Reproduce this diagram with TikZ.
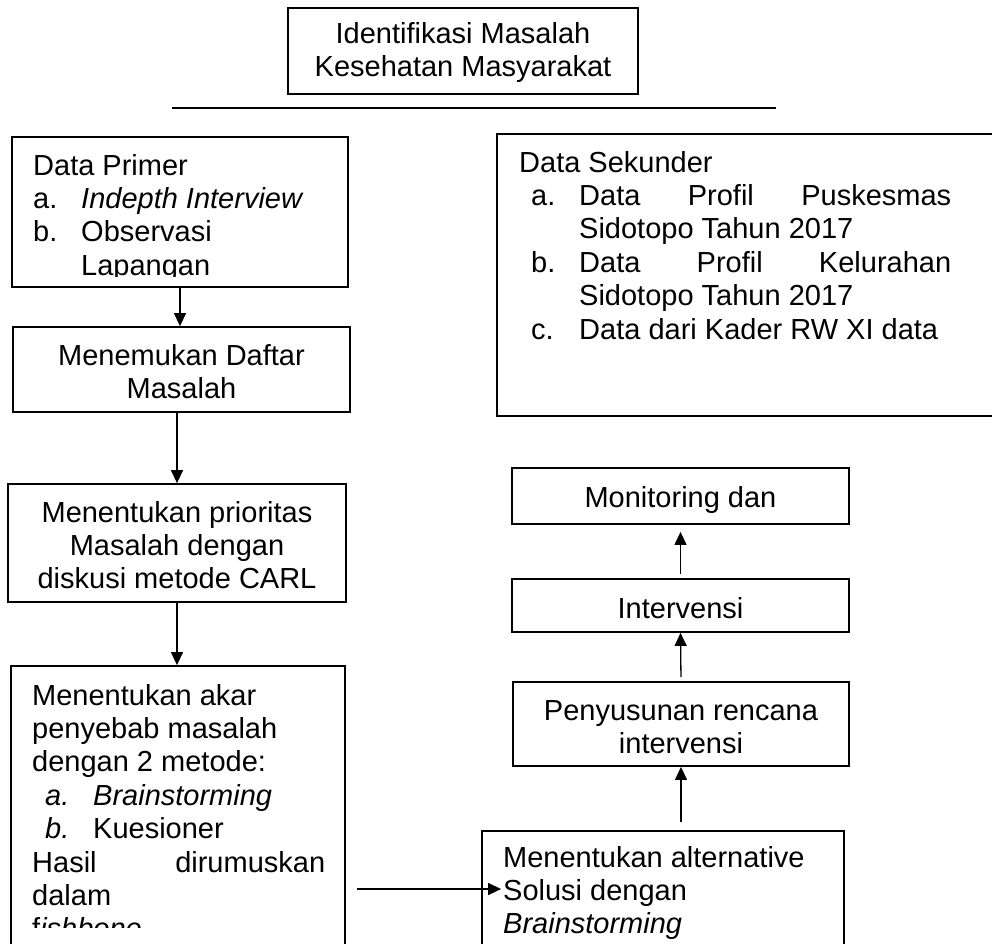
\documentclass[tikz,border=0pt]{standalone}
\usepackage{fontspec}
\setmainfont{Liberation Sans}
\usetikzlibrary{arrows.meta}
\newcommand\fsz{\fontsize{29}{33.4}\selectfont}
\tikzset{
  box/.style={draw, line width=1.8pt, rectangle, inner sep=0pt},
  arr/.style={line width=1.3pt, -{Triangle[length=13pt,width=12pt]}},
  txt/.style={inner sep=0pt, anchor=base},
  txtl/.style={inner sep=0pt, anchor=base west},
}
\begin{document}
\begin{tikzpicture}[x=1pt, y=-1pt]
\useasboundingbox (0,0) rectangle (992,943);

% boxes
\node[box, minimum width=350pt, minimum height=86pt] (top) at (463,51) {};
\node[box, minimum width=336pt, minimum height=150pt] (primer) at (180,212) {};
\node[box, minimum width=337pt, minimum height=85pt] (temu) at (181.5,369.5) {};
\node[box, minimum width=338pt, minimum height=118pt] (prior) at (177,543) {};
\node[box, minimum width=334pt, minimum height=314pt] (akar) at (178,823) {};
\node[box, minimum width=513pt, minimum height=282pt] (sek) at (753.5,275) {};
\node[box, minimum width=337pt, minimum height=56pt] (mon) at (680.5,496) {};
\node[box, minimum width=337pt, minimum height=53pt] (interv) at (680.5,605.5) {};
\node[box, minimum width=336pt, minimum height=84pt] (pen) at (681,724) {};
\node[box, minimum width=362pt, minimum height=159pt] (alt) at (663,910.5) {};

% horizontal rule under the title
\coordinate (ruleA) at (172,108);
\coordinate (ruleB) at (776,108);
\draw[line width=1.8pt] (ruleA) -- (ruleB);

% texts
\node[txt] (ttop) at (463,43) {\parbox[t]{340pt}{\fsz\centering Identifikasi Masalah\\Kesehatan Masyarakat}};

\begin{scope}
\clip (12,137) rectangle (348,276);
\node[txtl] (tprimer) at (33,175) {\parbox[t]{310pt}{\fsz Data Primer\\
\makebox[48pt][l]{a.}\textit{Indepth Interview}\\
\makebox[48pt][l]{b.}Observasi\\
\hspace*{48pt}Lapangan}};
\end{scope}

\node[txt] (ttemu) at (181.5,365) {\parbox[t]{330pt}{\fsz\centering Menemukan Daftar\\Masalah}};
\node[txt] (tprior) at (177,522) {\parbox[t]{336pt}{\fsz\centering Menentukan prioritas\\Masalah dengan\\diskusi metode CARL}};

\begin{scope}
\clip (11,666) rectangle (345,927);
\node[txtl] (takar) at (32,705) {\parbox[t]{310pt}{\fsz Menentukan akar\\
penyebab masalah\\
dengan 2 metode:\\
\hspace*{13pt}\makebox[48pt][l]{\textit{a.}}\textit{Brainstorming}\\
\hspace*{13pt}\makebox[48pt][l]{\textit{b.}}Kuesioner\\
\makebox[293pt][s]{Hasil\hfill dirumuskan}\\
dalam\\
f\textit{ishbone}}};
\end{scope}

\node[txtl] (tsek) at (519,172) {\parbox[t]{460pt}{\fsz Data Sekunder\\
\hspace*{12pt}\makebox[48pt][l]{a.}\makebox[372pt][s]{Data\hfill Profil\hfill Puskesmas}\\
\hspace*{60pt}Sidotopo Tahun 2017\\
\hspace*{12pt}\makebox[48pt][l]{b.}\makebox[372pt][s]{Data\hfill Profil\hfill Kelurahan}\\
\hspace*{60pt}Sidotopo Tahun 2017\\
\hspace*{12pt}\makebox[48pt][l]{c.}Data dari Kader RW XI data}};

\node[txt] (tmon) at (680.5,507) {\fsz Monitoring dan};
\node[txt] (tint) at (680.5,618) {\fsz Intervensi};
\node[txt] (tpen) at (681,720) {\parbox[t]{330pt}{\fsz\centering Penyusunan rencana\\intervensi}};

\begin{scope}
\clip (482,831) rectangle (844,938);
\node[txtl] (talt) at (503,867) {\parbox[t]{340pt}{\fsz Menentukan alternative\\Solusi dengan\\\textit{Brainstorming}}};
\end{scope}

% connectors
\draw[arr] (primer.south) -- (primer.south |- temu.north);
\draw[arr] (prior.north |- temu.south) -- (prior.north);
\draw[arr] (prior.south) -- (prior.south |- akar.north);
\coordinate (hstart) at (357,889);
\draw[arr, shorten >=-20pt] (hstart) -- (hstart -| alt.west);
\draw[arr, shorten <=8pt] (pen.south |- alt.north) -- (pen.south);
\draw[arr, shorten <=4pt] (pen.north) -- (interv.south);
\draw[arr, shorten <=4pt, shorten >=7pt] (interv.north) -- (mon.south);
\end{tikzpicture}
\end{document}
